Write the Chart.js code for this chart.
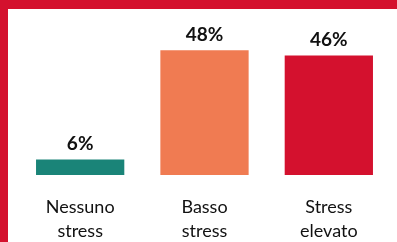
<!DOCTYPE html>
<html>
<head>
<meta charset="utf-8">
<script src="https://cdn.jsdelivr.net/npm/chart.js@4"></script>
<style>
  html, body { margin: 0; padding: 0; background: #ffffff; }
  #wrap { position: relative; width: 397px; height: 242px; overflow: hidden; }
  canvas { display: block; }
</style>
</head>
<body>
<div id="wrap"><canvas id="c" width="397" height="242"></canvas></div>
<script>
const categories = [["Nessuno", "stress"], ["Basso", "stress"], ["Stress", "elevato"]];
const values = [6, 48, 46];
const barColors = ["#1a8478", "#f07b52", "#d4112e"];
const frameColor = "#d4112e";

const frame = {
  id: 'frame',
  afterDraw(chart) {
    const ctx = chart.ctx;
    ctx.save();
    ctx.fillStyle = frameColor;
    ctx.fillRect(0, 0, chart.width, 9);
    ctx.fillRect(0, 0, 8, chart.height);
    ctx.restore();
  }
};

const valueLabels = {
  id: 'valueLabels',
  afterDatasetsDraw(chart) {
    const ctx = chart.ctx;
    const meta = chart.getDatasetMeta(0);
    ctx.save();
    ctx.font = 'bold 19px Lato';
    ctx.fillStyle = '#111111';
    ctx.textAlign = 'center';
    ctx.textBaseline = 'alphabetic';
    meta.data.forEach((bar, i) => {
      ctx.fillText(values[i] + '%', bar.x, bar.y - 9);
    });
    ctx.restore();
  }
};

new Chart(document.getElementById('c'), {
  type: 'bar',
  data: {
    labels: categories,
    datasets: [{
      data: values,
      backgroundColor: barColors,
      borderWidth: 0,
      barPercentage: 0.71,
      categoryPercentage: 1.0
    }]
  },
  options: {
    responsive: false,
    animation: false,
    devicePixelRatio: 1,
    layout: { padding: { left: 18, right: 6, top: 19, bottom: 0 } },
    plugins: { legend: { display: false }, tooltip: { enabled: false } },
    scales: {
      y: { display: false, min: 0, max: 60 },
      x: {
        grid: { display: false, drawTicks: false },
        border: { display: false },
        ticks: {
          color: '#111111',
          padding: 20,
          font: { family: 'Lato', size: 18, lineHeight: 24 / 18 },
          maxRotation: 0,
          autoSkip: false
        },
        afterFit(scale) { scale.height = 67; }
      }
    }
  },
  plugins: [frame, valueLabels]
});
</script>
</body>
</html>
